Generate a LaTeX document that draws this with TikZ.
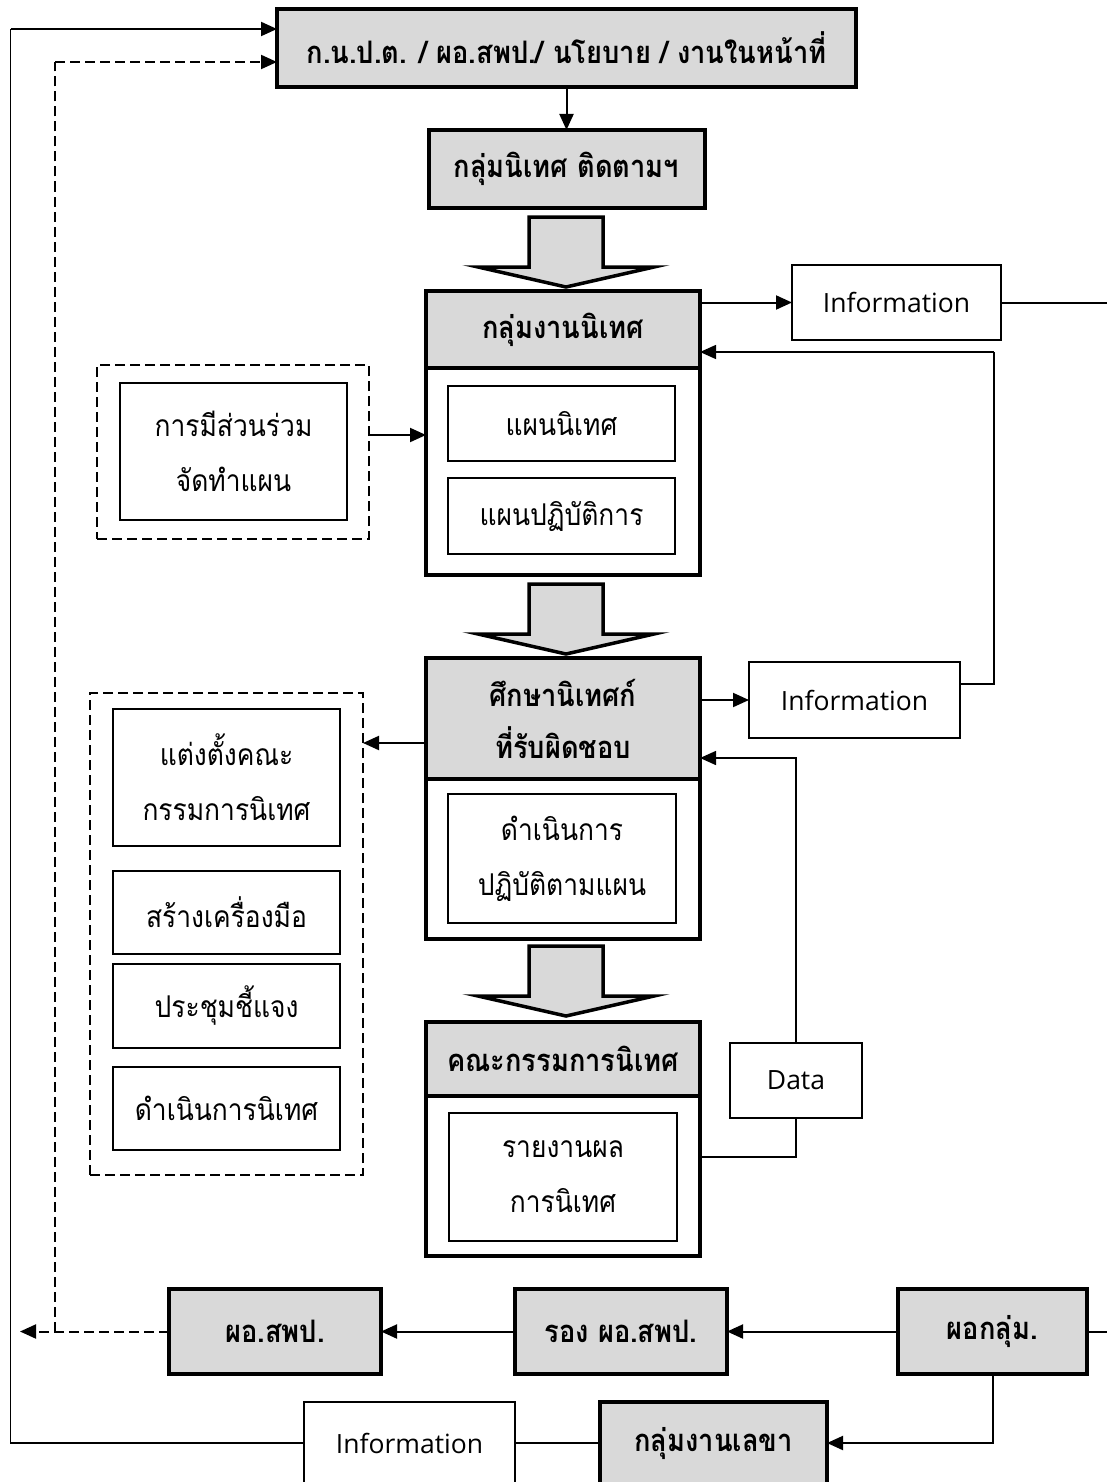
\documentclass[tikz,border=0pt]{standalone}
\usepackage{fontspec}
\newfontfamily\thaifont[Script=Thai,FakeStretch=0.88]{Loma}
\newfontfamily\latinfont{Open Sans}
\usetikzlibrary{arrows.meta}
\usetikzlibrary{positioning}
\definecolor{boxgray}{HTML}{D9D9D9}

\begin{document}
\begin{tikzpicture}[->,>={Triangle[length=16pt,width=14pt]},x=1pt,y=-1pt,
line width=2pt,font=\thaifont\fontsize{30}{55}\selectfont]
\tikzstyle{every node}=[outer sep=0pt,inner sep=0pt,align=center]
\tikzstyle{headbox}=[draw,line width=4pt,fill=boxgray,font=\thaifont\bfseries\fontsize{31}{52}\selectfont]
\tikzstyle{bodybox}=[draw,line width=4pt,fill=white,minimum width=274pt]
\tikzstyle{itembox}=[draw,line width=2pt]
\tikzstyle{infobox}=[draw,line width=1.5pt,fill=white,font=\latinfont\fontsize{26.5}{30}\selectfont]
\tikzstyle{groupbox}=[draw,line width=2pt,dash pattern=on 10pt off 5pt]
\tikzstyle{bigarrow}=[-,draw,line width=3.5pt,fill=boxgray,line join=miter]

\useasboundingbox (0,0) rectangle (1107,1482);

% main column
\node[headbox,minimum width=579pt,minimum height=78pt] (office) at (566.5,48) {ก.น.ป.ต. / ผอ.สพป./ นโยบาย / งานในหน้าที่};
\node[headbox,minimum width=276pt,minimum height=78pt] (unit) at (566.5,169) {กลุ่มนิเทศ ติดตามฯ};

\node[headbox,minimum width=274pt,minimum height=77pt] (grp1head) at (563,329.5) {กลุ่มงานนิเทศ};
\node[bodybox,minimum height=207pt,below=0pt of grp1head] (grp1body) {};
\node[itembox,minimum width=227pt,minimum height=75pt] (plan1) at (561.5,423.5) {แผนนิเทศ};
\node[itembox,minimum width=227pt,minimum height=76pt] (plan2) at (561.5,516) {แผนปฏิบัติการ};

\node[headbox,minimum width=274pt,minimum height=121pt] (grp2head) at (563,718.5) {ศึกษานิเทศก์\\ที่รับผิดชอบ};
\node[bodybox,minimum height=160pt,below=0pt of grp2head] (grp2body) {};
\node[itembox,minimum width=228pt,minimum height=129pt] (act) at (562,858.5) {ดำเนินการ\\ปฏิบัติตามแผน};

\node[headbox,minimum width=274pt,minimum height=74pt] (grp3head) at (563,1059) {คณะกรรมการนิเทศ};
\node[bodybox,minimum height=160pt,below=0pt of grp3head] (grp3body) {};
\node[itembox,minimum width=228pt,minimum height=128pt] (report) at (563,1177) {รายงานผล\\การนิเทศ};

% block arrows between the stages
\foreach \y in {217,584,946}
  \draw[bigarrow] (529,\y) -- (603,\y) -- (603,{\y+50}) -- (654,{\y+50})
    -- (566,{\y+70}) -- (478,{\y+50}) -- (529,{\y+50}) -- cycle;

% left groups
\node[groupbox,minimum width=272pt,minimum height=174pt] (groupA) at (233,452) {};
\node[itembox,minimum width=227pt,minimum height=137pt] (share) at (233.5,451.5) {การมีส่วนร่วม\\จัดทำแผน};

\node[groupbox,minimum width=273pt,minimum height=482pt] (groupB) at (226.5,934) {};
\node[itembox,minimum width=227pt,minimum height=137pt] (appoint) at (226.5,777.5) {แต่งตั้งคณะ\\กรรมการนิเทศ};
\node[itembox,minimum width=227pt,minimum height=83pt] (tools) at (226.5,912.5) {สร้างเครื่องมือ};
\node[itembox,minimum width=227pt,minimum height=84pt] (meet) at (226.5,1006) {ประชุมชี้แจง};
\node[itembox,minimum width=227pt,minimum height=83pt] (visit) at (226.5,1108.5) {ดำเนินการนิเทศ};

% information boxes
\node[infobox,minimum width=209pt,minimum height=75pt] (info1) at (896.5,302.5) {Information};
\node[infobox,minimum width=211pt,minimum height=76pt] (info2) at (854.5,700) {Information};
\node[infobox,minimum width=132pt,minimum height=75pt] (data) at (796,1080.5) {Data};

% bottom rows
\node[headbox,minimum width=212pt,minimum height=85pt] (director) at (275,1331.5) {ผอ.สพป.};
\node[headbox,minimum width=212pt,minimum height=85pt] (deputy) at (621,1331.5) {รอง ผอ.สพป.};
\node[headbox,minimum width=189pt,minimum height=85pt] (chief) at (992.5,1331.5) {ผอกลุ่ม.};
\node[headbox,minimum width=227pt,minimum height=82pt] (office2) at (713.5,1443) {กลุ่มงานเลขา};
\node[infobox,minimum width=211pt,minimum height=82pt] (info3) at (409.5,1443) {Information};

\coordinate (rightA) at (1107,302.5);
\coordinate (rightB) at (1107,1331.5);
\coordinate (leftend) at (20,1331.5);
\coordinate (backA) at (994,352);
\coordinate (backB) at (796,758);
\coordinate (dashcorner) at (55,1331.5);
\coordinate (dashtop) at (55,62);
\coordinate (loopbottom) at (10.5,1443);
\coordinate (looptop) at (10.5,29);
\path (groupA.east) ++(0,-17) coordinate (planin);
\path (grp2head.west) ++(0,24.5) coordinate (toolsout);
\path (grp3body.east) ++(0,-19) coordinate (repout);

\draw (office) -- (unit);
\draw (grp1head.east |- info1.west) -- (info1.west);
\draw[-] (info1.east) -- (rightA);
\draw (planin) -- (planin -| grp1body.west);
\draw[-,line width=1.5pt] ([yshift=16pt]info2.east) -| (backA);
\draw[line width=1.5pt] (backA) -- (backA -| grp1head.east);
\draw (grp2head.east |- info2.west) -- (info2.west);
\draw (toolsout) -- (toolsout -| groupB.east);
\draw[line width=1.5pt] (data.north) |- (backB -| grp2head.east);
\draw[-,line width=1.5pt] (repout) -| (data.south);

\draw (chief) -- (deputy);
\draw (deputy) -- (director);
\draw[dash pattern=on 10pt off 5pt] (director) -- (leftend);
\draw[-] (chief.east) -- (rightB);
\draw[-,dash pattern=on 10pt off 5pt] (dashcorner) -- (dashtop);
\draw[dash pattern=on 10pt off 5pt] (dashtop) -- (dashtop -| office.west);
\draw (chief.south) |- (office2.east);
\draw[-,line width=1.5pt] (office2.west) -- (info3.east);
\draw[-,line width=1.5pt] (info3.west) -- (loopbottom) -- (looptop);
\draw (looptop) -- (looptop -| office.west);
\end{tikzpicture}
\end{document}
